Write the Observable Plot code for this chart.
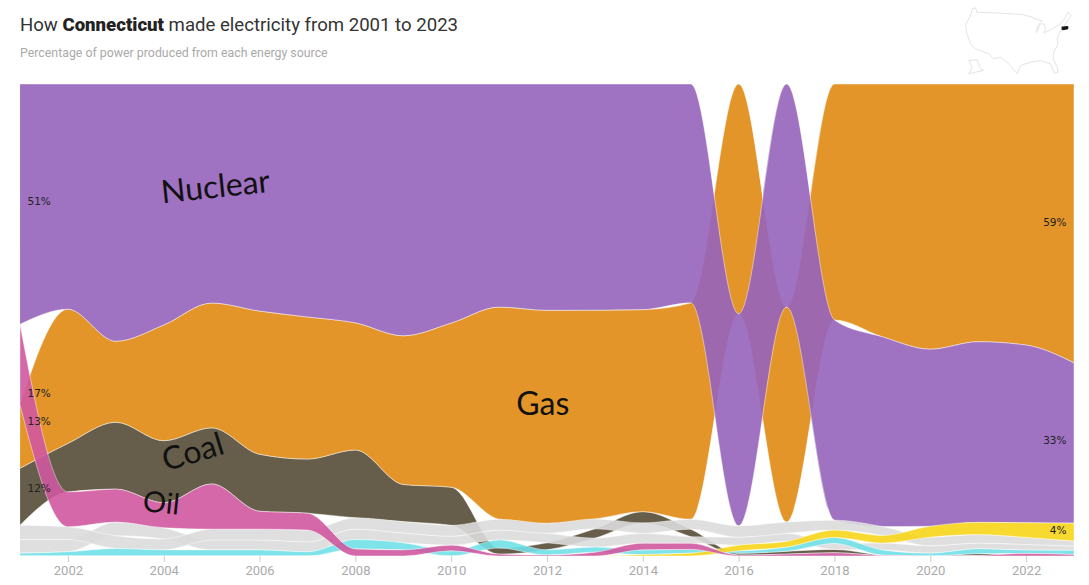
<!DOCTYPE html>
<html>
<head>
<meta charset="utf-8">
<script src="https://cdn.jsdelivr.net/npm/d3@7"></script>
<script src="https://cdn.jsdelivr.net/npm/@observablehq/plot@0.6"></script>
<style>
  html, body { margin: 0; padding: 0; background: #fff; }
  #page { position: relative; width: 1089px; height: 585px; overflow: hidden; }
  #head { height: 68px; box-sizing: border-box; padding: 14px 0 0 20px; }
  #title { font: 400 18.6px/22px Roboto, sans-serif; color: #333; }
  #title b { font-weight: 900; color: #222; }
  #sub { font: 400 12.35px/16px Roboto, sans-serif; color: #aaa; margin-top: 9px; }
  #map { position: absolute; left: 950px; top: 0; }
  #chart svg { display: block; }
</style>
</head>
<body>
<div id="page">
  <div id="head">
    <div id="title">How <b>Connecticut</b> made electricity from 2001 to 2023</div>
    <div id="sub">Percentage of power produced from each energy source</div>
  </div>
  <div id="chart"></div>
  <div id="map"></div>
</div>
<script>
const years = d3.range(2001, 2024);

// Share of generation, percent, per year 2001..2023
const nuclear = [50.7,47.8,54.6,51.2,46.5,48.2,49.5,50.7,53.5,50.7,47.3,48.0,48.2,47.8,46.5,45.0,47.3,42.5,40.3,37.6,38.4,37.7,33.9];
const gas     = [13.4,28.5,17.2,24.6,26.5,30.4,30.2,27.0,31.6,34.8,45.0,45.2,44.5,42.8,46.0,48.8,45.6,50.1,53.7,56.3,54.8,55.4,59.0];
const coal    = [12.0,10.3,14.2,13.2,11.9,12.1,11.5,14.4,7.9,8.1,1.3,1.5,2.0,2.4,1.6,0.4,0.6,0.7,0.1,0,0.4,0,0];
const oil     = [17.0,7.4,7.0,5.3,9.6,3.8,3.6,1.5,1.3,1.2,0.4,0.2,0.8,1.4,1.3,0.2,0.4,0.7,0.1,0,0.1,0.55,0.3];
const greyA   = [3.0,2.7,2.7,2.3,2.3,2.3,2.5,2.4,2.4,2.3,2.3,2.1,2.1,2.2,2.1,2.4,2.4,2.1,1.9,1.85,1.8,1.5,1.05];
const greyB   = [2.9,2.6,2.9,2.4,2.1,2.1,2.1,2.2,2.1,1.9,2.1,2.0,1.9,2.1,1.4,1.7,1.7,1.25,1.45,1.55,1.2,1.2,0.9];
const hydro   = [0.6,0.9,1.6,1.3,1.3,1.3,0.9,2.0,1.5,1.1,1.7,1.1,1.1,1.0,0.8,0.5,0.9,1.3,1.1,0.6,1.05,0.7,0.9];
const solar   = [0,0,0,0,0,0,0,0,0,0,0,0,0,0.3,0.6,1.2,1.2,1.55,1.6,2.3,2.6,3.1,3.8];

// Drawing order: back to front
const seriesNames = ["Coal","Gas","Nuclear","Other B","Other A","Hydro","Solar","Oil"];
const seriesValues = [coal, gas, nuclear, greyB, greyA, hydro, solar, oil];
const seriesColors = ["#554d36","#e08913","#9563bb","#dcdcdc","#dcdcdc","#71e0e8","#f7d518","#cf58a0"];

// Value labels
const labelText  = ["51%","17%","13%","12%","59%","33%","4%"];
const labelYear  = [2001,2001,2001,2001,2023,2023,2023];
const labelLevel = [75.2,34.5,28.6,14.4,70.8,24.6,5.5];

// Hand-lettered source names
const noteText   = ["Nuclear","Gas","Coal","Oil"];
const noteYear   = [2005.07,2011.9,2004.6,2003.94];
const noteLevel  = [78.2,32.2,22.0,11.2];
const noteAngle  = [-6,0,-17,6];

// Rank every source inside each year and stack from the top of the chart
const rows = [];
years.forEach((year, i) => {
  const entries = seriesNames.map((name, s) => ({name, v: seriesValues[s][i]}));
  const total = d3.sum(entries, d => d.v);
  const order = [...entries].sort((a, b) => b.v - a.v);
  let top = 100;
  for (const e of order) {
    const share = e.v / total * 100;
    rows.push({year, name: e.name, y1: top, y2: top - share});
    top -= share;
  }
});

const ribbons = seriesNames.map((name, s) =>
  Plot.areaY(rows.filter(d => d.name === name), {
    x: "year", y1: "y1", y2: "y2", curve: "monotone-x",
    fill: seriesColors[s], fillOpacity: 0.9,
    stroke: "#fff", strokeOpacity: 0.45, strokeWidth: 1
  })
);

const labels = labelText.map((t, i) => ({t, x: labelYear[i], y: labelLevel[i]}));
const notes  = noteText.map((t, i) => ({t, x: noteYear[i], y: noteLevel[i], r: noteAngle[i]}));

const chart = Plot.plot({
  width: 1089,
  height: 517,
  marginLeft: 20,
  marginRight: 15,
  marginTop: 16,
  marginBottom: 29,
  style: {background: "#fff"},
  x: {type: "linear", domain: [2001, 2023]},
  y: {domain: [0, 100], axis: null},
  marks: [
    ...ribbons,
    Plot.axisX({
      ticks: d3.range(2002, 2024, 2), tickFormat: "d",
      tickSize: 6, tickPadding: 3, label: null,
      stroke: "#ccc", color: "#aaa",
      fontSize: 13, fontFamily: "Roboto, sans-serif"
    }),
    Plot.text(labels.filter(d => d.x === 2001), {
      x: "x", y: "y", text: "t", textAnchor: "start", dx: 7,
      fontSize: 10.5, fontFamily: "DejaVu Sans, sans-serif", fill: "#222"
    }),
    Plot.text(labels.filter(d => d.x === 2023), {
      x: "x", y: "y", text: "t", textAnchor: "end", dx: -8,
      fontSize: 10.5, fontFamily: "DejaVu Sans, sans-serif", fill: "#222"
    }),
    ...notes.map(n => Plot.text([n], {
      x: "x", y: "y", text: "t", rotate: n.r,
      fontSize: n.t === "Oil" ? 29 : 32, fontFamily: "Lato, sans-serif", fontWeight: 400, fill: "#111",
      letterSpacing: n.t === "Coal" ? "7px" : "1px"
    }))
  ]
});
document.getElementById("chart").append(chart);

// Locator map
const outlineX = [65,75,80,150,215,245,262,275,262,258,270,280,285,280,300,330,345,352,362,345,335,325,320,322,310,308,320,322,312,300,270,240,210,200,175,150,130,115,75,60,48,45,62,65];
const outlineY = [25,22,35,38,42,50,58,60,75,97,70,70,85,97,88,70,50,35,45,70,85,100,115,130,155,175,200,215,218,190,180,185,195,220,190,170,175,160,145,130,95,75,40,25];
const alaskaX = [55,80,90,100,75,55,65,55];
const alaskaY = [180,178,205,210,215,220,200,180];
const stateX = [335,352,352,335,335];
const stateY = [80,78,85,88,80];
const shape = (xs, ys, id) => xs.map((x, i) => ({x, y: ys[i], id}));
const map = Plot.plot({
  width: 139, height: 90, margin: 0,
  x: {domain: [0, 417], axis: null},
  y: {domain: [270, 0], axis: null},
  marks: [
    Plot.line([...shape(outlineX, outlineY, "us"), ...shape(alaskaX, alaskaY, "ak")], {
      x: "x", y: "y", z: "id", stroke: "#e4e4e4", strokeWidth: 1, curve: "linear"
    }),
    Plot.line(shape(stateX, stateY, "ct"), {x: "x", y: "y", fill: "#111", stroke: "#111", strokeWidth: 1, curve: "linear"})
  ]
});
document.getElementById("map").append(map);
</script>
</body>
</html>
